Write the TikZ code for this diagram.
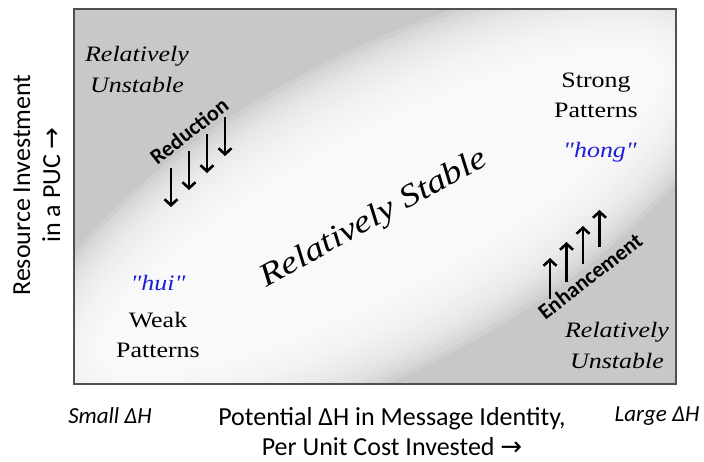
\documentclass[tikz,border=0pt]{standalone}
\usepackage{fontspec}
\setmainfont{Liberation Serif}
\newfontfamily\camfont{Liberation Serif}[FakeStretch=1.18]
\newfontfamily\calfont{Carlito}
\newfontfamily\arrfont{DejaVu Sans}
\usetikzlibrary{arrows.meta}
\definecolor{bg}{RGB}{200,200,200}
\definecolor{frame}{RGB}{80,80,80}
\definecolor{qblue}{RGB}{30,30,215}
\begin{document}
\begin{tikzpicture}[x=1pt,y=-1pt,
  lbl/.style={font=\camfont\fontsize{22}{30}\selectfont, align=center, inner sep=0pt},
  ilbl/.style={font=\camfont\itshape\fontsize{22}{31}\selectfont, align=center, inner sep=0pt},
  arw/.style={line width=2.6pt, -{Straight Barb[length=6pt,width=13pt]}},
  boldlbl/.style={font=\calfont\bfseries\fontsize{22}{26}\selectfont, inner sep=0pt},
  axis/.style={font=\calfont\fontsize{26}{30}\selectfont, align=center, inner sep=0pt},
  iaxis/.style={font=\calfont\itshape\fontsize{23}{28}\selectfont, inner sep=0pt}]
\useasboundingbox (0,0) rectangle (704,461);
\fill[bg] (74,9) rectangle (676,384);
\begin{scope}
\clip (74,9) rectangle (676,384);
\foreach \k in {0,...,20} {
  \fill[white, fill opacity=0.15, rotate around={28:(380,212)}] (380,212) ellipse [x radius={295+5*\k}, y radius={58+5*\k}];
}
\end{scope}
\draw[frame, line width=1.5pt] (74,9) rectangle (676,384);

\node[ilbl] (tl) at (137,69) {Relatively\\Unstable};
\node[lbl] (tr) at (596,95) {Strong\\Patterns};
\node[ilbl, text=qblue] (hong) at (600,152) {"hong"};
\node[ilbl, text=qblue] (hui) at (158,283) {"hui"};
\node[lbl] (weak) at (158,335) {Weak\\Patterns};
\node[ilbl] (br) at (617,345) {Relatively\\Unstable};
\node[font=\camfont\itshape\fontsize{32}{38}\selectfont, rotate=29, inner sep=0pt] (rs) at (374,219) {Relatively Stable};

\foreach \k in {0,...,3} {
  \coordinate (ra\k) at ({171+18*\k},{168-17*\k});
  \coordinate (rb\k) at ({171+18*\k},{207-17*\k});
  \draw[arw] (ra\k) -- (rb\k);
}
\foreach \k in {0,...,3} {
  \coordinate (ea\k) at ({550+16.5*\k},{299-17.5*\k});
  \coordinate (eb\k) at ({550+16.5*\k},{258-16*\k});
  \draw[arw] (ea\k) -- (eb\k);
}
\node[boldlbl, rotate=38] (red) at (189,131) {Reduction};
\node[boldlbl, rotate=38] (enh) at (590,276) {Enhancement};

\node[axis, rotate=90] (ylab) at (37,185) {Resource Investment\\in a PUC {\arrfont →}};
\node[iaxis] (small) at (110,416) {Small ΔH};
\node[axis] (xlab) at (392,432) {Potential ΔH in Message Identity,\\Per Unit Cost Invested {\arrfont →}};
\node[iaxis] (large) at (657,416) {Large ΔH};
\end{tikzpicture}
\end{document}
